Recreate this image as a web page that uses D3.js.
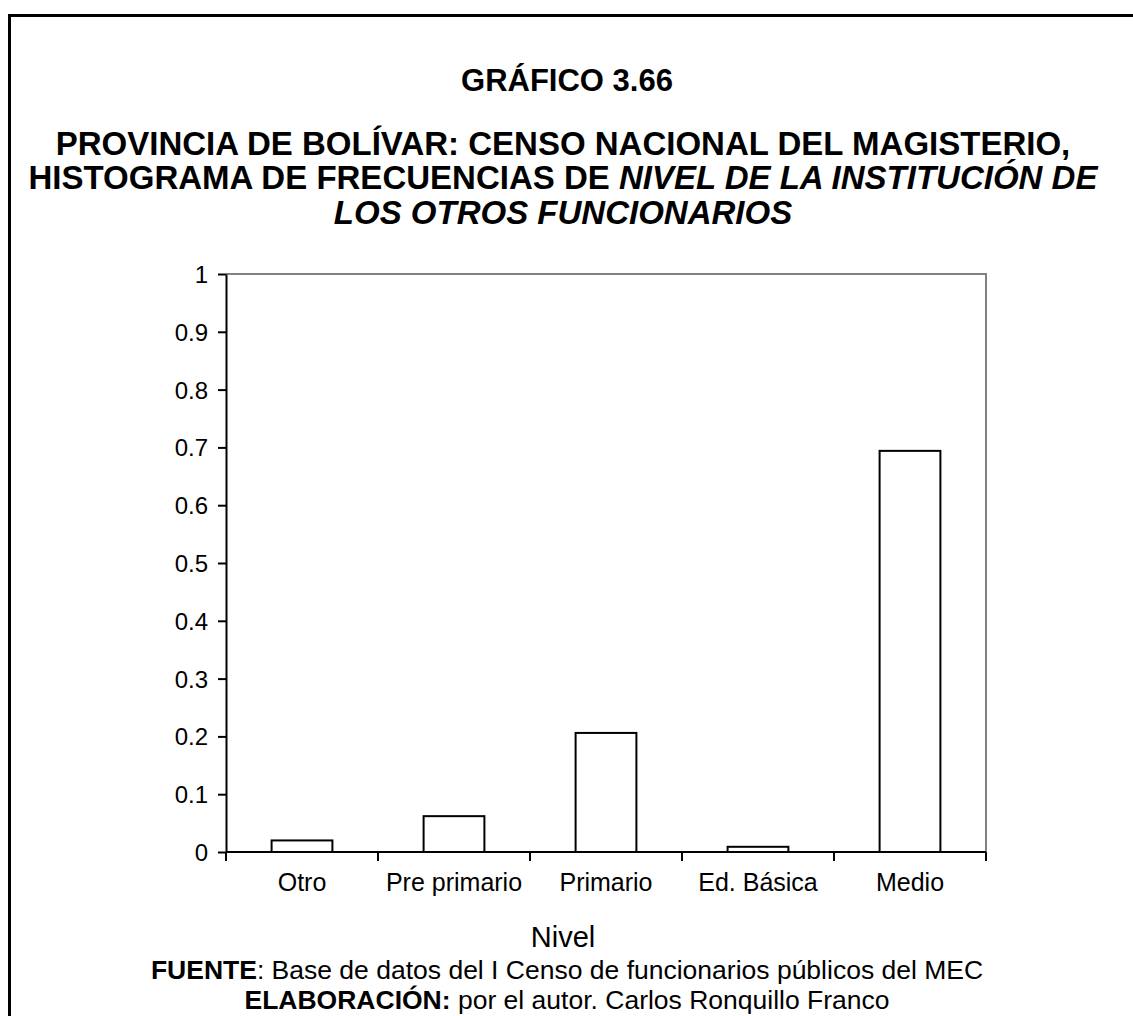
<!DOCTYPE html>
<html>
<head>
<meta charset="utf-8">
<script src="https://cdn.jsdelivr.net/npm/d3@7"></script>
<style>
  body { margin: 0; background: #fff; }
  text { font-family: "Liberation Sans", Arial, sans-serif; fill: #000; }
</style>
</head>
<body>
<svg id="chart"></svg>
<script>
// data
const categories = ["Otro", "Pre primario", "Primario", "Ed. Básica", "Medio"];
const frequencies = [0.02, 0.062, 0.206, 0.009, 0.694];
const yTickValues = [0, 0.1, 0.2, 0.3, 0.4, 0.5, 0.6, 0.7, 0.8, 0.9, 1];
const yTickLabels = ["0", "0.1", "0.2", "0.3", "0.4", "0.5", "0.6", "0.7", "0.8", "0.9", "1"];

const W = 1133, H = 1016;
const plot = { left: 226, right: 986, top: 274, bottom: 852 };

const svg = d3.select("#chart").attr("width", W).attr("height", H);

// page frame (only left and top visible)
svg.append("rect")
  .attr("x", 9.5).attr("y", 15.5)
  .attr("width", W + 20).attr("height", H + 20)
  .attr("fill", "none").attr("stroke", "#000").attr("stroke-width", 3);

// titles
const cx = 563;
svg.append("text").attr("x", cx + 4).attr("y", 91)
  .attr("text-anchor", "middle").style("font-size", "31px").style("font-weight", "bold")
  .text("GRÁFICO 3.66");

svg.append("text").attr("x", cx).attr("y", 155)
  .attr("text-anchor", "middle").style("font-size", "33px").style("font-weight", "bold")
  .text("PROVINCIA DE BOLÍVAR: CENSO NACIONAL DEL MAGISTERIO,");

const t2 = svg.append("text").attr("x", cx).attr("y", 189)
  .attr("text-anchor", "middle").style("font-size", "33px").style("font-weight", "bold");
t2.append("tspan").text("HISTOGRAMA DE FRECUENCIAS DE ");
t2.append("tspan").style("font-style", "italic").text("NIVEL DE LA INSTITUCIÓN DE");

svg.append("text").attr("x", cx).attr("y", 224)
  .attr("text-anchor", "middle").style("font-size", "33px").style("font-weight", "bold")
  .style("font-style", "italic")
  .text("LOS OTROS FUNCIONARIOS");

// scales
const xOuter = d3.scaleBand().domain(categories).range([plot.left, plot.right]).padding(0);
const xBar = d3.scaleBand().domain(categories).range([plot.left, plot.right])
  .paddingInner(0.6).paddingOuter(0.3);
const y = d3.scaleLinear().domain([0, 1]).range([plot.bottom, plot.top]);

// gray top and right frame of plot area
svg.append("path")
  .attr("d", `M${plot.left},${y(1)}H${plot.right}V${plot.bottom}`)
  .attr("fill", "none").attr("stroke", "#808080").attr("stroke-width", 2);

// bars
svg.append("g").selectAll("rect")
  .data(categories)
  .join("rect")
  .attr("x", d => xBar(d))
  .attr("y", (d, i) => y(frequencies[i]))
  .attr("width", xBar.bandwidth())
  .attr("height", (d, i) => y(0) - y(frequencies[i]))
  .attr("fill", "#fff").attr("stroke", "#000").attr("stroke-width", 2);

// y axis
const yAxis = svg.append("g")
  .attr("transform", `translate(${plot.left},0)`)
  .call(d3.axisLeft(y).tickValues(yTickValues)
    .tickFormat((d, i) => yTickLabels[i]).tickSize(8).tickSizeOuter(0).tickPadding(10));
yAxis.select(".domain").attr("stroke", "#000").attr("stroke-width", 2);
yAxis.selectAll(".tick line").attr("stroke", "#000").attr("stroke-width", 2);
yAxis.selectAll(".tick text").style("font-size", "24px").style("font-family", "Liberation Sans, Arial, sans-serif")
  .attr("dy", "0.35em");

// x axis: line + boundary ticks + centered labels
const xg = svg.append("g");
xg.append("line")
  .attr("x1", plot.left).attr("x2", plot.right)
  .attr("y1", y(0)).attr("y2", y(0))
  .attr("stroke", "#000").attr("stroke-width", 2);
const bounds = categories.map(c => xOuter(c)).concat([plot.right]);
xg.selectAll("line.tick")
  .data(bounds)
  .join("line")
  .attr("class", "tick")
  .attr("x1", d => d).attr("x2", d => d)
  .attr("y1", y(0)).attr("y2", y(0) + 9)
  .attr("stroke", "#000").attr("stroke-width", 2);
xg.selectAll("text")
  .data(categories)
  .join("text")
  .attr("x", d => xOuter(d) + xOuter.bandwidth() / 2)
  .attr("y", 891)
  .attr("text-anchor", "middle")
  .style("font-size", "25px")
  .text(d => d);

// axis title
svg.append("text").attr("x", cx).attr("y", 947)
  .attr("text-anchor", "middle").style("font-size", "29px")
  .text("Nivel");

// source lines
const f1 = svg.append("text").attr("x", cx + 4).attr("y", 979)
  .attr("text-anchor", "middle").style("font-size", "26.5px");
f1.append("tspan").style("font-weight", "bold").text("FUENTE");
f1.append("tspan").text(": Base de datos del I Censo de funcionarios públicos del MEC");

const f2 = svg.append("text").attr("x", cx + 4).attr("y", 1009)
  .attr("text-anchor", "middle").style("font-size", "26.5px");
f2.append("tspan").style("font-weight", "bold").text("ELABORACIÓN:");
f2.append("tspan").text(" por el autor. Carlos Ronquillo Franco");
</script>
</body>
</html>
